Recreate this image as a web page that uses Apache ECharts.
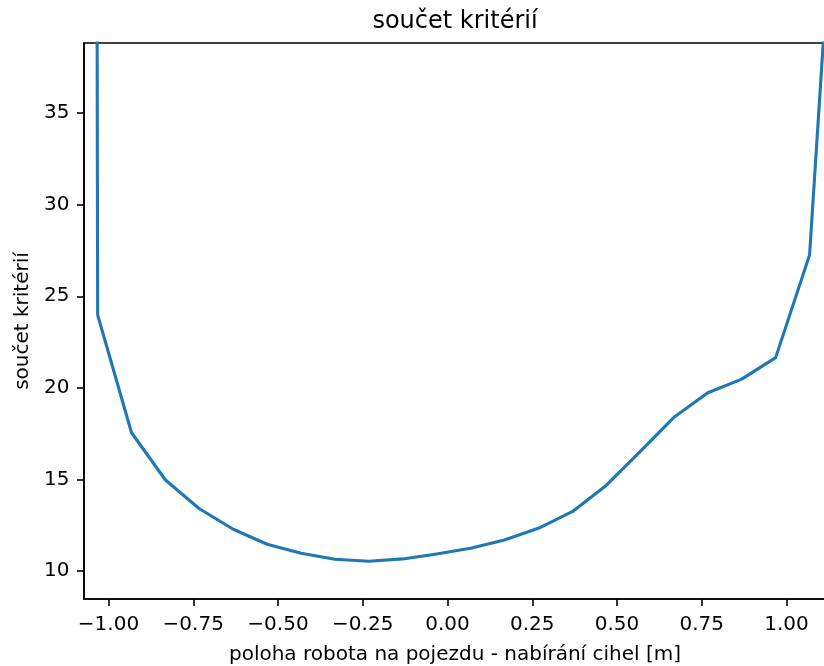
<!DOCTYPE html>
<html>
<head>
<meta charset="utf-8">
<script src="https://cdn.jsdelivr.net/npm/echarts@6/dist/echarts.min.js"></script>
<style>
html,body{margin:0;padding:0;background:#fff;}
#chart{width:824px;height:666px;}
</style>
</head>
<body>
<div id="chart"></div>
<script>
// Data
var xValues = [-1.132, -1.032, -0.932, -0.832, -0.732, -0.632, -0.532, -0.432, -0.332, -0.232, -0.132,
               -0.032, 0.068, 0.168, 0.268, 0.368, 0.468, 0.568, 0.668, 0.768, 0.868, 0.968, 1.068, 1.168];
var yValues = [1000, 23.98, 17.55, 14.97, 13.40, 12.28, 11.46, 10.97, 10.64, 10.53, 10.66,
               10.93, 11.24, 11.69, 12.33, 13.24, 14.67, 16.52, 18.39, 19.73, 20.48, 21.65, 27.25, 56.0];
var xTicks = [-1.00, -0.75, -0.50, -0.25, 0.00, 0.25, 0.50, 0.75, 1.00];
var yTicks = [10, 15, 20, 25, 30, 35];
var titleText = 'součet kritérií';
var xLabelText = 'poloha robota na pojezdu - nabírání cihel [m]';
var yLabelText = 'součet kritérií';

var FONT = 'DejaVu Sans';
var seriesData = xValues.map(function (x, i) { return [x, yValues[i]]; });

var chart = echarts.init(document.getElementById('chart'), null, {renderer: 'canvas'});
chart.setOption({
  animation: false,
  backgroundColor: '#fff',
  grid: {
    left: 84, top: 43, width: 750, height: 556,
    outerBoundsMode: 'none', containLabel: false,
    show: true, borderColor: '#000', borderWidth: 1.6, backgroundColor: 'transparent'
  },
  xAxis: {
    type: 'value',
    min: -1.0723, max: 1.1401,
    splitLine: {show: false},
    axisLine: {show: true, onZero: false, lineStyle: {color: '#000', width: 1.6}},
    axisTick: {show: true, inside: false, length: 7, customValues: xTicks, lineStyle: {color: '#000', width: 1.6}},
    axisLabel: {
      show: true, customValues: xTicks, margin: 16,
      fontFamily: FONT, fontSize: 20, lineHeight: 20, color: '#000',
      formatter: function (v) { return v.toFixed(2).replace('-', '\u2212'); }
    }
  },
  yAxis: {
    type: 'value',
    min: 8.471, max: 38.83,
    splitLine: {show: false},
    axisLine: {show: true, onZero: false, lineStyle: {color: '#000', width: 1.6}},
    axisTick: {show: true, inside: false, length: 7, customValues: yTicks, lineStyle: {color: '#000', width: 1.6}},
    axisLabel: {
      show: true, customValues: yTicks, margin: 14.5,
      fontFamily: FONT, fontSize: 20, lineHeight: 20, color: '#000',
      formatter: function (v) { return String(Math.round(v)); }
    }
  },
  series: [{
    type: 'line',
    data: seriesData,
    showSymbol: false,
    symbol: 'none',
    clip: true,
    lineStyle: {color: '#1f77b4', width: 3.1, join: 'round'},
    itemStyle: {color: '#1f77b4'}
  }],
  graphic: [
    {type: 'text', x: 455, y: 22, style: {text: titleText, font: '24px "DejaVu Sans"', fill: '#000', align: 'center', verticalAlign: 'middle'}},
    {type: 'text', x: 455, y: 654.6, style: {text: xLabelText, font: '20px "DejaVu Sans"', fill: '#000', align: 'center', verticalAlign: 'middle'}},
    {type: 'text', x: 22.6, y: 321, rotation: Math.PI / 2, style: {text: yLabelText, font: '20px "DejaVu Sans"', fill: '#000', align: 'center', verticalAlign: 'middle'}}
  ]
});
</script>
</body>
</html>
